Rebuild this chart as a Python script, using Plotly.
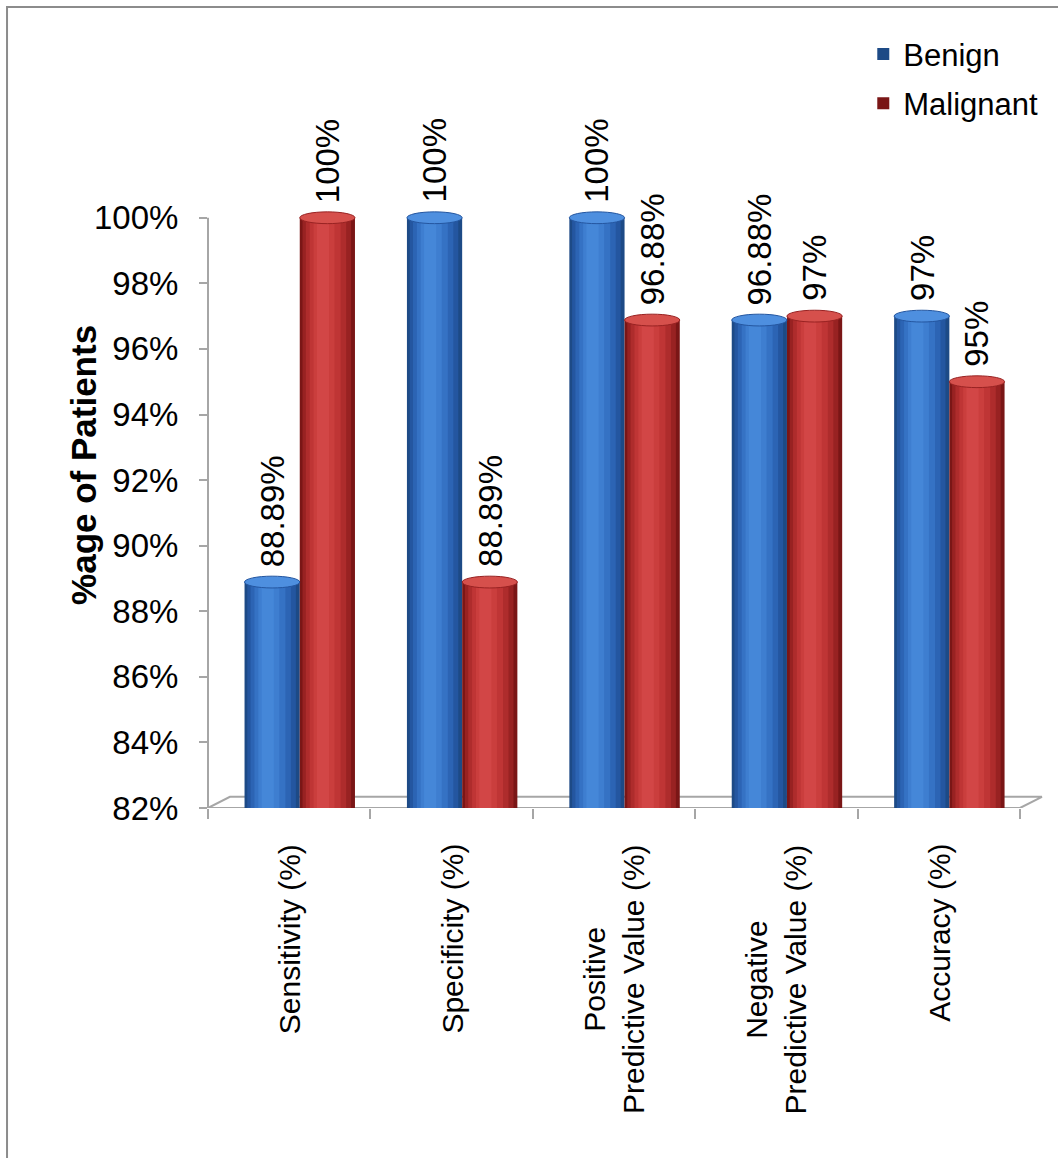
import plotly.graph_objects as go

# Diagnostic test results for benign vs malignant lesions
categories = [
    "Sensitivity (%)",
    "Specificity (%)",
    "Positive<br>Predictive Value (%)",
    "Negative<br>Predictive Value (%)",
    "Accuracy (%)",
]
benign = [88.89, 100, 100, 96.88, 97]
malignant = [100, 88.89, 96.88, 97, 95]
benign_labels = ["88.89%", "100%", "100%", "96.88%", "97%"]
malignant_labels = ["100%", "88.89%", "96.88%", "97%", "95%"]
y_ticks = [82, 84, 86, 88, 90, 92, 94, 96, 98, 100]
y_tick_text = [f"{v}%" for v in y_ticks]

FONT = "Liberation Sans, Arial, sans-serif"
Y_MIN, Y_MAX = 82, 106

# cylinder shading: (left fraction, right fraction, colour) from edge to highlight
blue_layers = [(0.00, 1.00, "#1d4a86"), (0.05, 0.93, "#2456a0"), (0.11, 0.84, "#2c64b4"),
               (0.18, 0.74, "#3572c4"), (0.25, 0.63, "#3e7ed0"), (0.31, 0.53, "#4587d8")]
red_layers = [(0.00, 1.00, "#7a1616"), (0.05, 0.93, "#982222"), (0.11, 0.84, "#ae2c2c"),
              (0.18, 0.74, "#bf3535"), (0.25, 0.63, "#ca3e3d"), (0.31, 0.53, "#d24646")]

series = [
    ("Benign", benign, benign_labels, -0.275, blue_layers, "#4e8fdf"),
    ("Malignant", malignant, malignant_labels, 0.065, red_layers, "#d6504c"),
]
BAR_W = 0.34
CAP_H = 0.18  # half-height of the top ellipse, in axis units

fig = go.Figure()
shapes = []
annotations = []

for name, vals, labels, off, layers, cap_col in series:
    for k, (lf, rf, col) in enumerate(layers):
        fig.add_trace(go.Bar(
            x=categories, y=vals, name=name,
            offset=off + BAR_W * lf, width=BAR_W * (rf - lf),
            marker=dict(color=col, line=dict(width=0)),
            showlegend=(k == 0), legendgroup=name,
            hoverinfo="skip" if k else "y",
        ))
    for i, (v, lab) in enumerate(zip(vals, labels)):
        x0 = i + off
        shapes.append(dict(type="circle", xref="x", yref="y", layer="above",
                           x0=x0, x1=x0 + BAR_W, y0=v - CAP_H, y1=v + CAP_H,
                           fillcolor=cap_col, line=dict(color=layers[1][2], width=1)))
        annotations.append(dict(x=x0 + BAR_W / 2, y=v + CAP_H, xref="x", yref="y",
                                text=lab, textangle=-90, showarrow=False,
                                xanchor="center", yanchor="bottom", yshift=7,
                                font=dict(family=FONT, size=33, color="#000000")))

# category labels, rotated, with multi-line labels centred
for i, cat in enumerate(categories):
    annotations.append(dict(x=i, y=0, xref="x", yref="paper", text=cat,
                            textangle=-90, showarrow=False, align="center",
                            xanchor="center", yanchor="top", yshift=-34,
                            font=dict(family=FONT, size=30, color="#000000")))

# 3-D floor under the bars
depth_y = 0.34
shapes.insert(0, dict(type="path", xref="paper", yref="y", layer="below",
                      path=f"M 0,{Y_MIN} L 1,{Y_MIN} L 1.027,{Y_MIN + depth_y} "
                           f"L 0.027,{Y_MIN + depth_y} Z",
                      fillcolor="#ffffff", line=dict(color="#a6a6a6", width=2)))
# value axis line, running from the floor to the top tick
shapes.append(dict(type="line", xref="paper", yref="y", layer="below",
                   x0=0, x1=0, y0=Y_MIN, y1=y_ticks[-1],
                   line=dict(color="#a6a6a6", width=2)))
# outer chart frame
shapes.append(dict(type="rect", xref="paper", yref="paper", layer="below",
                   x0=-0.2475, x1=1.3, y0=-0.7, y1=1.0178,
                   line=dict(color="#8c8c8c", width=2), fillcolor="rgba(0,0,0,0)"))

annotations.append(dict(text="<b>%age of Patients</b>", textangle=-90, showarrow=False,
                        xref="paper", yref="y", x=-0.154, y=92.46,
                        xanchor="center", yanchor="middle",
                        font=dict(family=FONT, size=35, color="#000000")))

fig.update_layout(
    width=1058, height=1158,
    margin=dict(l=208, r=38, t=21, b=350),
    paper_bgcolor="#ffffff", plot_bgcolor="#ffffff",
    barmode="overlay",
    font=dict(family=FONT, size=28, color="#000000"),
    shapes=shapes, annotations=annotations,
    showlegend=True,
    legend=dict(x=0.807, y=0.992, xanchor="left", yanchor="top",
                font=dict(family=FONT, size=31, color="#000000"),
                bgcolor="rgba(0,0,0,0)", tracegroupgap=6, itemwidth=30),
    xaxis=dict(range=[-0.5, len(categories) - 0.5], showline=False, showgrid=False,
               zeroline=False, ticks="outside", tickson="boundaries", ticklen=10,
               tickcolor="#a6a6a6", tickwidth=2, showticklabels=False),
    yaxis=dict(range=[Y_MIN, Y_MAX], tickvals=y_ticks, ticktext=y_tick_text,
               showline=False, showgrid=False, zeroline=False,
               ticks="outside", ticklen=8, tickcolor="#a6a6a6", tickwidth=2,
               ticklabelstandoff=14,
               tickfont=dict(family=FONT, size=33, color="#000000")),
)

fig.write_html("out.html")
